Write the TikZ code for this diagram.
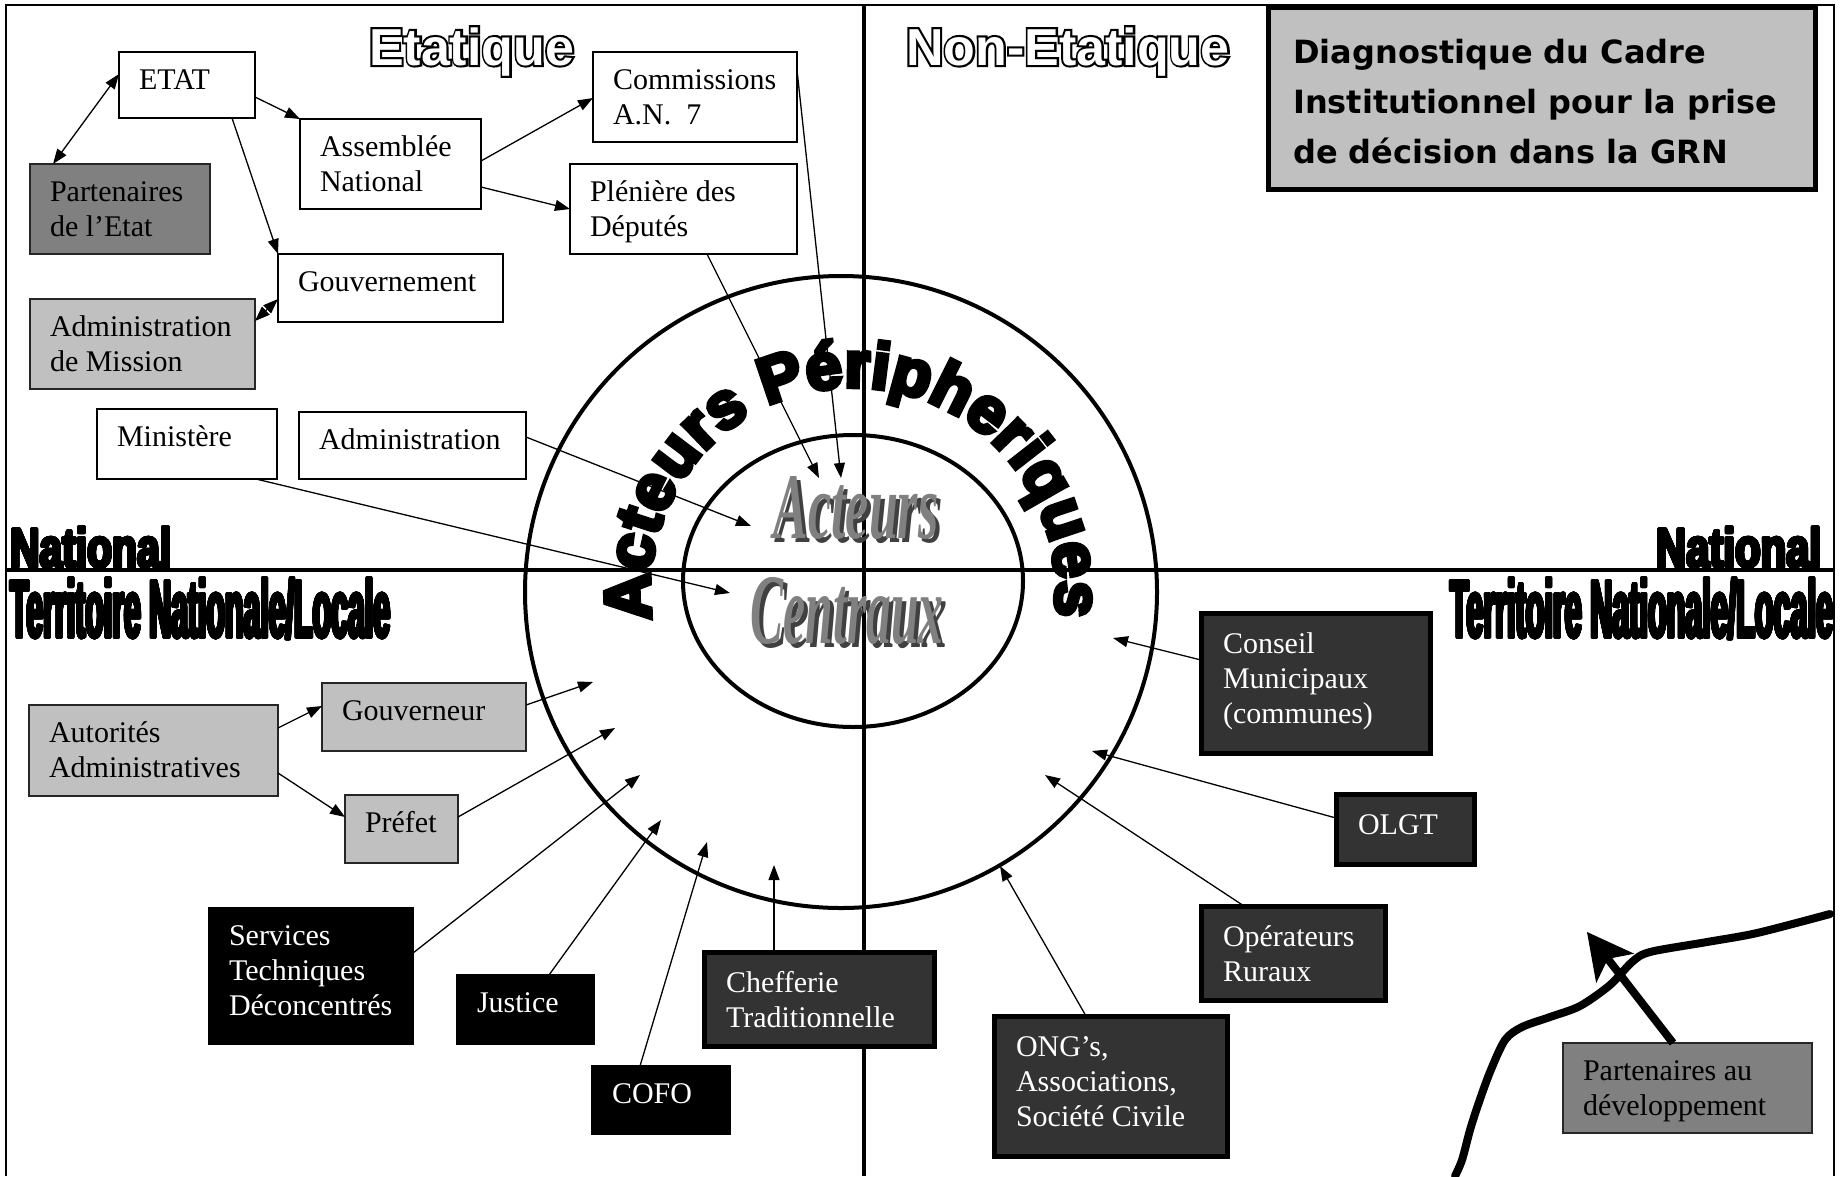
\documentclass[tikz,border=0pt]{standalone}
\usepackage{fontspec}
\setmainfont{Liberation Serif}
\newfontfamily\heavyfont{Liberation Sans}[UprightFont=* Bold, FakeBold=7]
\newfontfamily\labelfont{Liberation Sans}[UprightFont=* Bold, FakeBold=1.5]
\newfontfamily\plainbold{Liberation Sans}[UprightFont=* Bold]
\newfontfamily\outlinefont{Liberation Sans}[UprightFont=* Bold, FakeBold=8]
\newfontfamily\titlefont{DejaVu Sans}
\usepackage{contour}
\contournumber{24}
\contourlength{1.2pt}
\usetikzlibrary{shapes.geometric,arrows.meta,decorations.text,calc}
\definecolor{lgray}{HTML}{C0C0C0}
\definecolor{mgray}{HTML}{808080}
\definecolor{dgray}{HTML}{333333}
\definecolor{wafront}{HTML}{808080}
\definecolor{waback}{HTML}{404040}
\tikzset{
  bxwhite/.style={draw=black, fill=white, line width=1.6pt, outer sep=0pt, inner sep=0pt},
  bxlight/.style={draw=black!85, fill=lgray, line width=1.6pt, outer sep=0pt, inner sep=0pt},
  bxmid/.style={draw=black!85, fill=mgray, line width=1.6pt, outer sep=0pt, inner sep=0pt},
  bxblack/.style={draw=black, fill=black, line width=1.6pt, outer sep=0pt, inner sep=0pt},
  bxdark/.style={draw=black, fill=dgray, line width=5pt, outer sep=0pt, inner sep=0pt},
  tblack/.style={text=black},
  twhite/.style={text=white},
  tthick/.style={text=white, xshift=2pt, yshift=-3pt},
  boxtext/.style={font=\fontsize{30}{35}\selectfont, align=left, inner sep=0pt, outer sep=0pt},
  conn/.style={line width=1.3pt, -{Triangle[length=15pt,width=11pt]}},
  conn2/.style={line width=1.3pt, {Triangle[length=15pt,width=11pt]}-{Triangle[length=15pt,width=11pt]}},
  thickline/.style={line width=4pt},
  wa/.style={inner sep=0pt, outer sep=0pt, text=wafront},
  wab/.style={inner sep=0pt, outer sep=0pt, text=waback},
  lbl/.style={inner sep=0pt, outer sep=0pt},
}
\newcommand{\mybox}[8]{%
  \node[#6, minimum width=#4pt, minimum height=#5pt, anchor=north west] (#1) at (#2,#3) {};
  \node[boxtext, #7, anchor=north west] (#1t) at ([xshift=20pt,yshift=-12pt]#1.north west) {\rule{0pt}{25pt}#8};}
\begin{document}
\begin{tikzpicture}[x=1pt,y=-1pt]
\useasboundingbox (0,0) rectangle (1841,1176);
\fill[white] (0,0) rectangle (1841,1176);
% frame
\draw[line width=1.6pt] (6,1176) -- (6,5) -- (1834,5) -- (1834,1176);
% circles
\node[circle, draw, line width=4pt, minimum size=632pt, inner sep=0pt] (outer) at (841,592) {};
\node[ellipse, draw, line width=4pt, minimum width=340pt, minimum height=292pt, inner sep=0pt] (inner) at (853,581) {};
% dividers
\draw[thickline] (864,5) -- (864,1176);
\draw[thickline] (6,570) -- (1834,570);

% boxes upper left
\mybox{etat}{119}{52}{136}{66}{bxwhite}{tblack}{ETAT}
\mybox{pe}{30}{164}{180}{90}{bxmid}{tblack}{Partenaires\\de l’Etat}
\mybox{an}{300}{119}{181}{90}{bxwhite}{tblack}{Assemblée\\National}
\mybox{gouv}{278}{254}{225}{68}{bxwhite}{tblack}{Gouvernement}
\mybox{adm}{30}{299}{225}{90}{bxlight}{tblack}{Administration\\de Mission}
\mybox{min}{97}{409}{180}{70}{bxwhite}{tblack}{Ministère}
\mybox{admin}{299}{412}{227}{67}{bxwhite}{tblack}{Administration}
\mybox{com}{593}{52}{204}{90}{bxwhite}{tblack}{Commissions\\A.N.~~7}
\mybox{plen}{570}{164}{227}{90}{bxwhite}{tblack}{Plénière des\\Députés}
% lower left
\mybox{aut}{29}{705}{249}{91}{bxlight}{tblack}{Autorités\\Administratives}
\mybox{gouvr}{322}{683}{204}{68}{bxlight}{tblack}{Gouverneur}
\mybox{pref}{345}{795}{113}{68}{bxlight}{tblack}{Préfet}
\mybox{std}{209}{908}{204}{136}{bxblack}{twhite}{Services\\Techniques\\Déconcentrés}
\mybox{just}{457}{975}{137}{69}{bxblack}{twhite}{Justice}
\mybox{cofo}{592}{1066}{138}{68}{bxblack}{twhite}{COFO}
\mybox{chef}{704}{952}{230}{94}{bxdark}{tthick}{Chefferie\\Traditionnelle}
% lower right
\mybox{cons}{1201}{613}{229}{140}{bxdark}{tthick}{Conseil\\Municipaux\\(communes)}
\mybox{olgt}{1336}{794}{138}{70}{bxdark}{tthick}{OLGT}
\mybox{oper}{1201}{906}{184}{94}{bxdark}{tthick}{Opérateurs\\Ruraux}
\mybox{ong}{994}{1016}{233}{140}{bxdark}{tthick}{ONG’s,\\Associations,\\Société Civile}
\mybox{pad}{1563}{1043}{249}{90}{bxmid}{tblack}{Partenaires au\\développement}

% title box
\node[draw=black, fill=lgray, line width=5pt, minimum width=547pt, minimum height=182pt, anchor=north west, outer sep=0pt, inner sep=0pt] (title) at (1268,7) {};
\node[anchor=north west, inner sep=0pt, align=left, font=\titlefont\bfseries\fontsize{32}{50}\selectfont] (titlet) at ([xshift=25pt,yshift=-22pt]title.north west) {\rule{0pt}{34pt}Diagnostique du Cadre\\Institutionnel pour la prise\\de décision dans la GRN};

% free ends
\coordinate (e7) at (841,478);
\coordinate (e8) at (819,478);
\coordinate (e9) at (751,526);
\coordinate (e10) at (730,593);
\coordinate (e13) at (593,682);
\coordinate (e14) at (615,728);
\coordinate (e15) at (640,775);
\coordinate (e16) at (661,820);
\coordinate (e17) at (707,842);
\coordinate (e18) at (774,865);
\coordinate (e19) at (1113,638);
\coordinate (e20) at (1092,751);
\coordinate (e21) at (1045,775);
\coordinate (e22) at (1000,866);
\coordinate (e23) at (1587,932);

% connectors
\draw[conn2] ([yshift=-22pt]etat.north west) -- ([xshift=23pt]pe.north west);
\draw[conn] ([yshift=-45pt]etat.north east) -- (an.north west);
\draw[conn] ([xshift=113pt]etat.south west) -- (gouv.north west);
\draw[conn2] ([yshift=-22pt]adm.north east) -- ([yshift=-45pt]gouv.north west);
\draw[conn] ([yshift=-42pt]an.north east) -- ([yshift=-46pt]com.north west);
\draw[conn] ([yshift=-68pt]an.north east) -- ([yshift=-45pt]plen.north west);
\draw[conn] ([yshift=-18pt]com.north east) -- (e7);
\draw[conn] ([xshift=137pt]plen.south west) -- (e8);
\draw[conn] ([yshift=-25pt]admin.north east) -- (e9);
\draw[conn] ([xshift=-21pt]min.south east) -- (e10);
\draw[conn] ([yshift=-23pt]aut.north east) -- ([yshift=-23pt]gouvr.north west);
\draw[conn] ([yshift=-68pt]aut.north east) -- ([yshift=-22pt]pref.north west);
\draw[conn] ([yshift=-22pt]gouvr.north east) -- (e13);
\draw[conn] ([yshift=-22pt]pref.north east) -- (e14);
\draw[conn] ([yshift=-45pt]std.north east) -- (e15);
\draw[conn] ([xshift=92pt]just.north west) -- (e16);
\draw[conn] ([xshift=48pt]cofo.north west) -- (e17);
\draw[conn] ([xshift=70pt]chef.north west) -- (e18);
\draw[conn] ([yshift=-47pt]cons.north west) -- (e19);
\draw[conn] ([yshift=-24pt]olgt.north west) -- (e20);
\draw[conn] ([xshift=43pt]oper.north west) -- (e21);
\draw[conn] ([xshift=92pt]ong.north west) -- (e22);

% river line and big arrow
\draw[line width=8pt, line join=round, line cap=round] plot[smooth, tension=0.5] coordinates {(1455,1176) (1462,1160) (1470,1130) (1478,1105) (1490,1072) (1505,1040) (1522,1027) (1550,1017) (1580,1006) (1610,985) (1632,962) (1650,952) (1707,942) (1757,933) (1830,914)};
\draw[line width=8pt, -{Stealth[length=46pt,width=48pt,inset=12pt,line width=1pt]}] ([xshift=110pt]pad.north west) -- (e23);

% curved text
\coordinate (arcstart) at (652.2,620);
\path[decorate, decoration={text along path, text align=center, text={|\heavyfont\fontsize{65}{70}\selectfont|Acteurs Péripheriques}}] (arcstart) arc[start angle=171.5, end angle=367.6, radius=203];

% central word art (front face with extruded back)
\node[wab] (acts) at (860,512) {\resizebox{165pt}{62pt}{\bfseries\itshape Acteurs}};
\node[wa] (act) at (856,508) {\resizebox{165pt}{62pt}{\bfseries\itshape Acteurs}};
\node[wab] (cens) at (851,615) {\resizebox{193pt}{66pt}{\bfseries\itshape Centraux}};
\node[wa] (cen) at (847,611) {\resizebox{193pt}{66pt}{\bfseries\itshape Centraux}};

% headings (outlined)
\node[lbl, anchor=base west] (etqb) at (369,65) {\outlinefont\fontsize{52}{60}\selectfont Etatique};
\node[lbl, anchor=base west, text=white] (etq) at (369,65) {\plainbold\fontsize{52}{60}\selectfont Etatique};
\node[lbl, anchor=base west] (netqb) at (906,65) {\outlinefont\fontsize{52}{60}\selectfont Non-Etatique};
\node[lbl, anchor=base west, text=white] (netq) at (906,65) {\plainbold\fontsize{52}{60}\selectfont Non-Etatique};
% side labels
\node[lbl, anchor=base west] (natL) at (10,567) {\contour{black}{\resizebox{161pt}{40pt}{\labelfont National}}};
\node[lbl, anchor=base west] (terL) at (10,637) {\contour{black}{\resizebox{380pt}{59pt}{\labelfont Territoire Nationale/Locale}}};
\node[lbl, anchor=base east] (natR) at (1821,567) {\contour{black}{\resizebox{165pt}{40pt}{\labelfont National}}};
\node[lbl, anchor=base east] (terR) at (1833,637) {\contour{black}{\resizebox{383pt}{59pt}{\labelfont Territoire Nationale/Locale}}};
\end{tikzpicture}
\end{document}
